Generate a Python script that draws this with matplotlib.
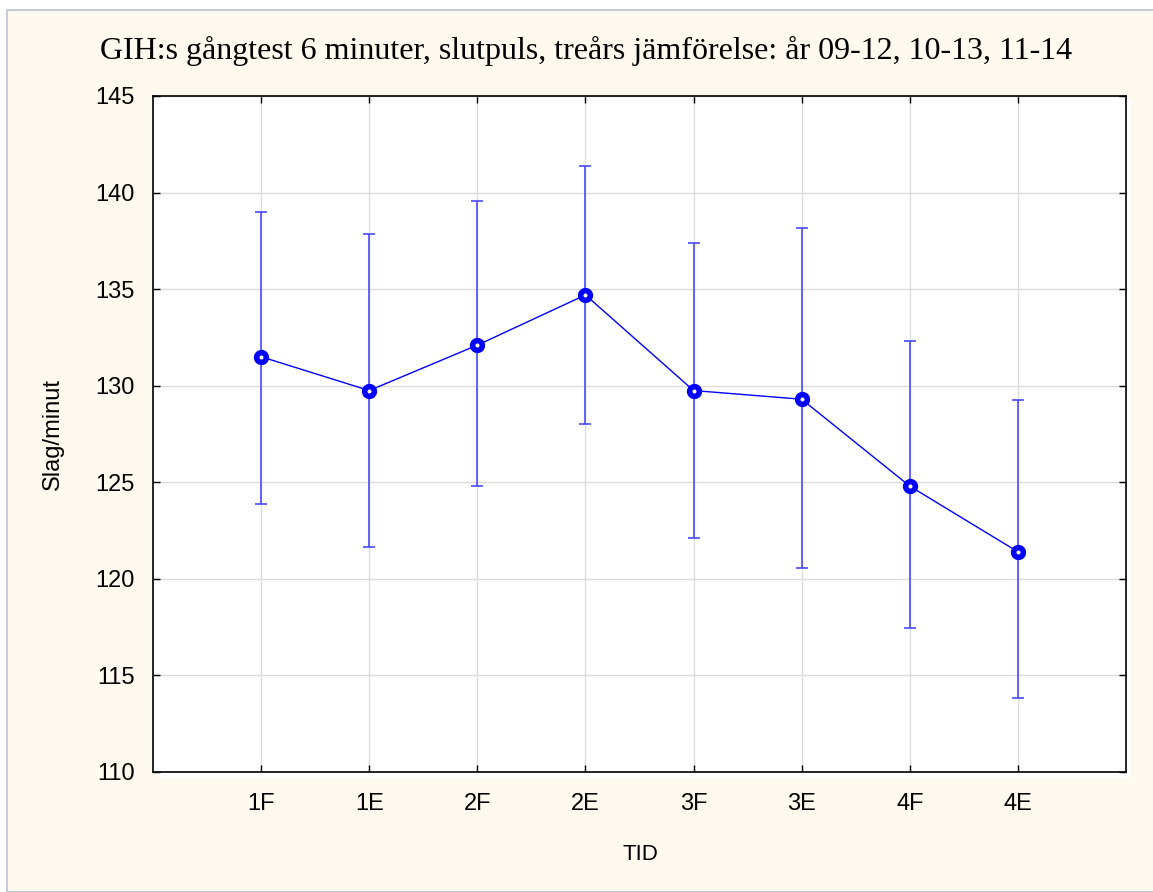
#!/usr/bin/env python3
import matplotlib
matplotlib.use("Agg")
import matplotlib.pyplot as plt
from matplotlib.patches import Rectangle
import numpy as np

plt.rcParams["font.family"] = ["Liberation Sans", "DejaVu Sans"]

tider = ["1F", "1E", "2F", "2E", "3F", "3E", "4F", "4E"]
medel = [131.5, 129.75, 132.1, 134.7, 129.75, 129.3, 124.8, 121.4]
ovre  = [139.0, 137.85, 139.55, 141.4, 137.4, 138.15, 132.3, 129.25]
undre = [123.9, 121.65, 124.8, 128.0, 122.1, 120.55, 117.45, 113.85]

W, H = 1153, 892
fig = plt.figure(figsize=(W / 100, H / 100), dpi=100, facecolor="white")

# cream panel with a thin frame
fig.patches.append(Rectangle((7 / W, 0), 1 - 7 / W + 0.01, 1 - 10 / H,
                             transform=fig.transFigure, facecolor="#fef9ee",
                             edgecolor="#b8c4d0", lw=1.2, zorder=-3))

ax_l, ax_b, ax_w, ax_h = 153 / W, 1 - 772 / H, 973 / W, 676 / H
# white plot area slightly offset behind the axes
fig.patches.append(Rectangle((ax_l + 5 / W, ax_b - 5 / H), ax_w, ax_h,
                             transform=fig.transFigure, facecolor="white",
                             edgecolor="none", zorder=-2))
ax = fig.add_axes([ax_l, ax_b, ax_w, ax_h])
ax.set_facecolor("white")

x = np.arange(1, len(tider) + 1)
m = np.array(medel)
yerr = [m - np.array(undre), np.array(ovre) - m]

ax.errorbar(x, m, yerr=yerr, fmt="none", ecolor="#4a4aff", elinewidth=1.2,
            capsize=4, capthick=1.2, zorder=3)
ax.plot(x, m, "-", color="#0000ff", lw=1, zorder=4)
ax.plot(x, m, "o", ms=7, mfc="white", mec="#0000ff", mew=4, zorder=5)

ax.set_xlim(0, 9)
ax.set_ylim(110, 145)
ax.set_xticks(x)
ax.set_xticklabels(tider)
ax.set_yticks(np.arange(110, 146, 5))
ax.grid(True, color="#dcdcdc", lw=1, zorder=0)
ax.set_axisbelow(True)

ax.tick_params(direction="in", length=5, width=1, top=True, right=True,
               labelsize=17, colors="black")
ax.tick_params(axis="y", pad=13)
ax.tick_params(axis="x", pad=15)
for s in ax.spines.values():
    s.set_linewidth(1.2)
    s.set_color("black")

fig.text(0.508, 1 - 51 / H,
         "GIH:s gångtest 6 minuter, slutpuls, treårs jämförelse: år 09-12, 10-13, 11-14",
         ha="center", va="center", fontsize=23, family=["Liberation Serif", "DejaVu Serif"])
fig.text(53 / W, 1 - 434 / H, "Slag/minut", rotation=90, ha="center", va="center",
         fontsize=17)
fig.text(640 / W, 1 - 855 / H, "TID", ha="center", va="center", fontsize=16)

fig.savefig("out.png", dpi=100, facecolor=fig.get_facecolor())
